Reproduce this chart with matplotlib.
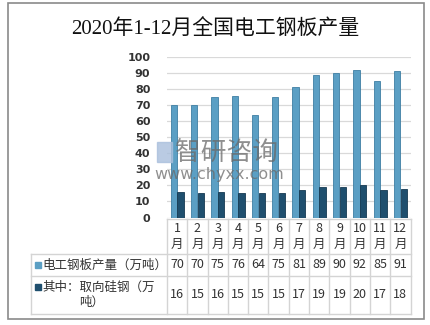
import matplotlib
matplotlib.use("Agg")
import matplotlib.pyplot as plt
from matplotlib.patches import Rectangle
import numpy as np

plt.rcParams['font.family'] = ['Noto Sans CJK SC', 'DejaVu Sans']

title = "2020年1-12月全国电工钢板产量"
categories = ['1月', '2月', '3月', '4月', '5月', '6月', '7月', '8月', '9月', '10月', '11月', '12月']
series_names = ['电工钢板产量（万吨）', '其中：取向硅钢（万\n吨）']
production = [70, 70, 75, 76, 64, 75, 81, 89, 90, 92, 85, 91]
grain_oriented = [16, 15, 16, 15, 15, 15, 17, 19, 19, 20, 17, 18]
yticks = list(range(0, 101, 10))

W, H = 430, 325
fig = plt.figure(figsize=(W / 100, H / 100), dpi=100)

def fx(px):
    return px / W

def fy(py):
    return 1 - py / H

# outer frame
fig.patches.append(Rectangle((fx(7.5), fy(319)), fx(424) - fx(7.5), fy(3) - fy(319),
                             transform=fig.transFigure, fill=False, edgecolor='#8a8a8a', lw=1.2))

fig.text(0.5, fy(30), title, ha='center', va='center', fontsize=15, color='#111111',
         family=['Liberation Serif', 'Noto Sans CJK SC'])

c1 = '#5b9fc4'
c2 = '#1f4f6e'
ax_l, ax_r, ax_t, ax_b = 167, 410.5, 57, 217.5
ax = fig.add_axes([fx(ax_l), fy(ax_b), fx(ax_r) - fx(ax_l), fy(ax_t) - fy(ax_b)])
x = np.arange(len(categories))
bw = 0.31
ax.bar(x - bw / 2 - 0.01, production, bw, color=c1, edgecolor='#3f7fa3', lw=0.6, zorder=3)
ax.bar(x + bw / 2 + 0.01, grain_oriented, bw, color=c2, edgecolor='#163a52', lw=0.6, zorder=3)
ax.set_xlim(-0.5, len(categories) - 0.5)
ax.set_ylim(0, 100)
ax.set_yticks(yticks)
ax.set_yticklabels([str(v) for v in yticks], fontsize=8, fontweight='bold', color='#333333',
                   family='DejaVu Sans')
ax.tick_params(axis='y', length=0, pad=12)
ax.tick_params(axis='x', length=0, labelbottom=False)
ax.grid(axis='y', color='#d9d9d9', lw=0.9, zorder=0)
for s in ax.spines.values():
    s.set_visible(False)

# watermark
fig.patches.append(Rectangle((fx(157), fy(162)), fx(172) - fx(157), fy(142) - fy(162),
                             transform=fig.transFigure, color='#a9bfdc', alpha=0.8, zorder=5))
fig.text(fx(175), fy(152.5), '智研咨询', ha='left', va='center', fontsize=18.5,
         color='#6a6a6a', alpha=0.75, zorder=6)
fig.text(fx(219), fy(174), 'www.chyxx.com', ha='center', va='center', fontsize=11.5,
         color='#6a6a6a', alpha=0.75, zorder=6, family='DejaVu Sans')

# data table
t_top, t_r1, t_r2, t_bot = 219, 254, 276, 314
tab = fig.add_axes([fx(ax_l), fy(t_bot), fx(ax_r) - fx(ax_l), fy(t_top) - fy(t_bot)])
tab.set_xlim(-0.5, len(categories) - 0.5)
tab.set_ylim(t_bot, t_top)
tab.axis('off')
px_per_unit = (ax_r - ax_l) / len(categories)
left_edge = -0.5 - (ax_l - 30.5) / px_per_unit
lc = '#d4d4d4'
kw = dict(color=lc, lw=1.0, clip_on=False)
tab.plot([-0.5, len(categories) - 0.5], [t_top, t_top], **kw)
for yy in (t_r1, t_r2, t_bot):
    tab.plot([left_edge, len(categories) - 0.5], [yy, yy], **kw)
for i in range(len(categories) + 1):
    tab.plot([i - 0.5, i - 0.5], [t_top, t_bot], **kw)
tab.plot([left_edge, left_edge], [t_r1, t_bot], **kw)

tc = '#333333'
fs = 9
for i, cat in enumerate(categories):
    num, unit = cat[:-1], cat[-1]
    tab.text(i, 228, num, ha='center', va='center', fontsize=fs, color=tc)
    tab.text(i, 244, unit, ha='center', va='center', fontsize=fs, color=tc)
    tab.text(i, 265, str(production[i]), ha='center', va='center', fontsize=fs, color=tc)
    tab.text(i, 294, str(grain_oriented[i]), ha='center', va='center', fontsize=fs, color=tc)

sq = 5.5 / px_per_unit
x0 = -0.5 - (ax_l - 35) / px_per_unit
tab.add_patch(Rectangle((x0, 262), sq, 5.5, color=c1, clip_on=False))
tab.add_patch(Rectangle((x0, 284), sq, 5.5, color=c2, clip_on=False))
xt = -0.5 - (ax_l - 42) / px_per_unit
tab.text(xt, 265, series_names[0], ha='left', va='center', fontsize=fs, color=tc, clip_on=False)
line1, line2 = series_names[1].split('\n')
tab.text(xt, 287, line1, ha='left', va='center', fontsize=fs, color=tc, clip_on=False)
tab.text(-0.5 - (ax_l - 92) / px_per_unit, 302, line2, ha='center', va='center', fontsize=fs,
         color=tc, clip_on=False)

fig.savefig('out.png', dpi=100)
